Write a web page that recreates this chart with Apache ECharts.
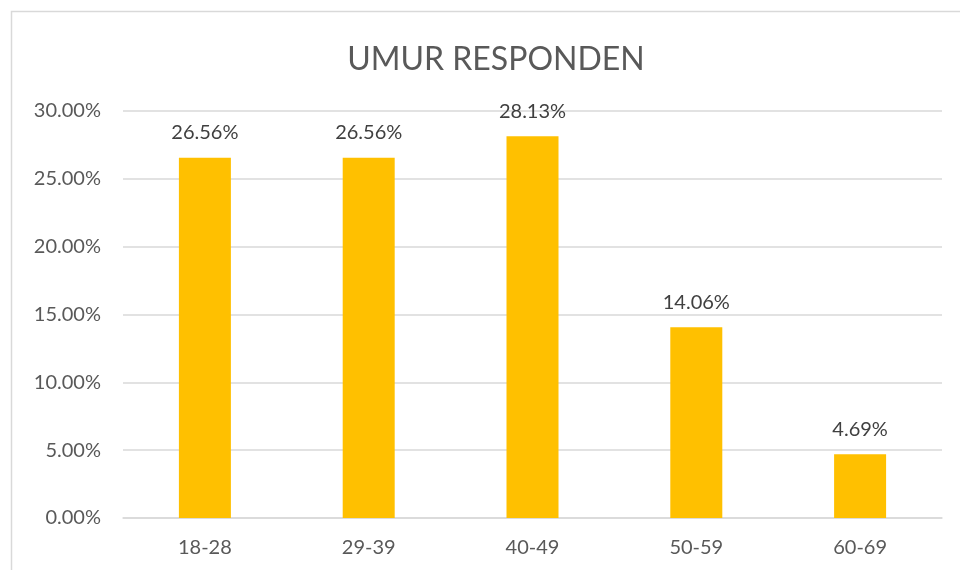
<html>
<head>
    <meta charset="utf-8">
    <script src="https://cdn.jsdelivr.net/npm/echarts@6/dist/echarts.min.js"></script>
</head>
<body style="margin:0;background:#fff;">
<div id="main" style="width: 960px;height:570px;"></div>
</body>
<script type="text/javascript">
    // kelompok umur dan persentase responden
    var categories = ['18-28', '29-39', '40-49', '50-59', '60-69'];
    var values = [26.56, 26.56, 28.13, 14.06, 4.69];
    var yTicks = [0, 5, 10, 15, 20, 25, 30];

    var fontName = 'Lato, "Open Sans", sans-serif';
    var myChart = echarts.init(document.getElementById('main'));

    var option = {
        backgroundColor: '#fff',
        animation: false,
        title: {
            text: 'UMUR RESPONDEN',
            left: 491,
            textAlign: 'center',
            top: 39,
            textStyle: {color: '#595959', fontSize: 32, fontWeight: 'normal', fontFamily: fontName}
        },
        graphic: [{
            type: 'rect',
            shape: {x: 11.5, y: 11.5, width: 970, height: 580},
            style: {fill: 'none', stroke: '#d9d9d9', lineWidth: 1.5}
        }],
        grid: {left: 123, right: 18, top: 111, bottom: 52},
        xAxis: {
            type: 'category',
            data: categories,
            axisLine: {lineStyle: {color: '#d9d9d9', width: 1.5}},
            axisTick: {show: false},
            axisLabel: {color: '#595959', fontSize: 20, fontFamily: fontName, margin: 20}
        },
        yAxis: {
            type: 'value',
            min: yTicks[0],
            max: yTicks[yTicks.length - 1],
            interval: 5,
            axisLine: {show: false},
            axisTick: {show: false},
            splitLine: {lineStyle: {color: '#d9d9d9', width: 1.5}},
            axisLabel: {
                color: '#595959', fontSize: 20, fontFamily: fontName, margin: 22,
                formatter: function (v) { return v.toFixed(2) + '%'; }
            }
        },
        series: [{
            type: 'bar',
            data: values,
            barWidth: 52,
            itemStyle: {color: '#FFC000'},
            label: {
                show: true,
                position: 'top',
                distance: 15,
                color: '#404040',
                fontSize: 20,
                fontFamily: fontName,
                formatter: function (p) { return p.value.toFixed(2) + '%'; }
            }
        }]
    };

    myChart.setOption(option);
</script>
</html>
